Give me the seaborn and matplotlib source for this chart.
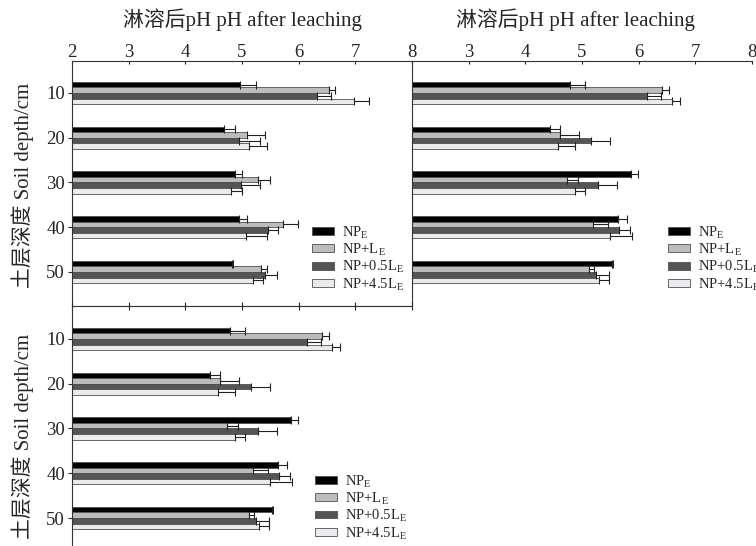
import numpy as np
import pandas as pd
import matplotlib
matplotlib.use('Agg')
import matplotlib.pyplot as plt
from matplotlib.patches import Patch
import seaborn as sns

# soil depths (cm) and treatments
depths = [10, 20, 30, 40, 50]
treatments = ['NP$_\\mathrm{E}$', 'NP+L$_\\mathrm{E}$', 'NP+0.5L$_\\mathrm{E}$', 'NP+4.5L$_\\mathrm{E}$']
colors = ['#000000', '#bcbcbc', '#555555', '#e9ebee']

# top-left panel: pH after leaching (mean) and error
a_np = [4.97, 4.68, 4.88, 4.95, 4.82]
a_l = [6.54, 5.08, 5.29, 5.73, 5.33]
a_05l = [6.33, 4.94, 4.98, 5.45, 5.40]
a_45l = [6.97, 5.13, 4.80, 5.07, 5.20]
a_np_err = [0.27, 0.19, 0.12, 0.14, 0.02]
a_l_err = [0.10, 0.33, 0.20, 0.26, 0.11]
a_05l_err = [0.24, 0.37, 0.34, 0.19, 0.22]
a_45l_err = [0.28, 0.31, 0.20, 0.37, 0.17]

# second data set (shown top-right and bottom-left)
b_np = [4.79, 4.44, 5.86, 5.64, 5.53]
b_l = [6.42, 4.61, 4.73, 5.20, 5.12]
b_05l = [6.15, 5.16, 5.29, 5.65, 5.25]
b_45l = [6.59, 4.58, 4.87, 5.50, 5.30]
b_np_err = [0.27, 0.18, 0.12, 0.15, 0.02]
b_l_err = [0.11, 0.34, 0.20, 0.26, 0.10]
b_05l_err = [0.24, 0.33, 0.33, 0.20, 0.22]
b_45l_err = [0.14, 0.30, 0.19, 0.39, 0.18]

x_ticks = [2, 3, 4, 5, 6, 7, 8]
title_text = '淋溶后pH pH after leaching'
ylabel_text = '土层深度 Soil depth/cm'

sns.set_style('ticks')
plt.rcParams['font.family'] = ['Liberation Serif', 'Noto Sans CJK SC']
plt.rcParams['mathtext.fontset'] = 'custom'
plt.rcParams['mathtext.rm'] = 'Liberation Serif'
plt.rcParams['axes.edgecolor'] = '#333333'
plt.rcParams['axes.linewidth'] = 0.8

W, H = 756, 546


def make_frame(means):
    rows = []
    for trt, vals in zip(treatments, means):
        for d, v in zip(depths, vals):
            rows.append({'depth': d, 'treatment': trt, 'ph': v})
    return pd.DataFrame(rows)


def draw_bars(ax, means, errs):
    df = make_frame(means)
    sns.barplot(data=df, x='ph', y='depth', hue='treatment', orient='h',
                order=depths, hue_order=treatments, palette=colors,
                width=0.5, errorbar=None, edgecolor='#505050', linewidth=0.6,
                legend=False, ax=ax)
    bars = list(ax.containers)
    for cont, err in zip(bars, errs):
        ys = [p.get_y() + p.get_height() / 2 for p in cont.patches]
        xs = [p.get_width() for p in cont.patches]
        ax.errorbar(xs, ys, xerr=[np.zeros(len(err)), err], fmt='none',
                    ecolor='#222222', elinewidth=0.8, capsize=3.2, capthick=0.8)
    ax.set_xlim(2, 8)
    ax.set_xlabel('')
    ax.set_ylabel('')


def add_legend(ax, x, y):
    handles = [Patch(facecolor=c, edgecolor='#505050', linewidth=0.6) for c in colors]
    ax.legend(handles, treatments, loc='upper left', bbox_to_anchor=(x, y),
              frameon=False, fontsize=10.5, handlelength=1.5, handleheight=0.45,
              handletextpad=0.55, labelspacing=0.05, borderpad=0, borderaxespad=0)


fig = plt.figure(figsize=(W / 100, H / 100), dpi=100)

# top-left
ax1 = fig.add_axes([72 / W, 1 - 306 / H, 340 / W, 245 / H])
draw_bars(ax1, [a_np, a_l, a_05l, a_45l], [a_np_err, a_l_err, a_05l_err, a_45l_err])
ax1.set_ylim(4.76, -0.715)
ax1.set_xticks(x_ticks)
ax1.xaxis.tick_top()
ax1.tick_params(axis='x', direction='in', length=2.5, width=0.8, pad=0, labelsize=13.5)
ax1.tick_params(axis='y', direction='out', length=3, width=0.8, pad=2, labelsize=13.5)
ax1.spines['right'].set_visible(False)
ax1.text(0.501, (306 - 26) / 245, title_text, transform=ax1.transAxes,
         ha='center', va='baseline', fontsize=15)
ax1.text(-0.144, 0.492, ylabel_text, transform=ax1.transAxes, rotation=90,
         ha='center', va='center', fontsize=15)
add_legend(ax1, 0.706, 0.335)

# top-right
ax2 = fig.add_axes([412 / W, 1 - 306 / H, 340 / W, 245 / H])
draw_bars(ax2, [b_np, b_l, b_05l, b_45l], [b_np_err, b_l_err, b_05l_err, b_45l_err])
ax2.set_ylim(4.76, -0.715)
ax2.set_xticks(x_ticks)
ax2.set_xticklabels([''] + [str(t) for t in x_ticks[1:]])
ax2.xaxis.tick_top()
ax2.tick_params(axis='x', direction='in', length=2.5, width=0.8, pad=0, labelsize=13.5)
ax2.set_yticks([])
ax2.spines['right'].set_visible(False)
ax2.spines['bottom'].set_visible(False)
ax2.text(0.482, (306 - 26) / 245, title_text, transform=ax2.transAxes,
         ha='center', va='baseline', fontsize=15)
add_legend(ax2, 0.753, 0.335)

# bottom-left
ax3 = fig.add_axes([72 / W, 1 - 550 / H, 340 / W, 244 / H])
draw_bars(ax3, [b_np, b_l, b_05l, b_45l], [b_np_err, b_l_err, b_05l_err, b_45l_err])
ax3.set_ylim(4.715, -0.737)
ax3.set_xticks(x_ticks)
ax3.xaxis.tick_top()
ax3.tick_params(axis='x', direction='inout', length=6, width=0.8, labeltop=False)
ax3.tick_params(axis='y', direction='out', length=3, width=0.8, pad=2, labelsize=13.5)
ax3.spines['right'].set_visible(False)
ax3.spines['bottom'].set_visible(False)
ax3.text(-0.144, 0.465, ylabel_text, transform=ax3.transAxes, rotation=90,
         ha='center', va='center', fontsize=15)
add_legend(ax3, 0.715, 0.316)

fig.savefig('out.png', dpi=100)
